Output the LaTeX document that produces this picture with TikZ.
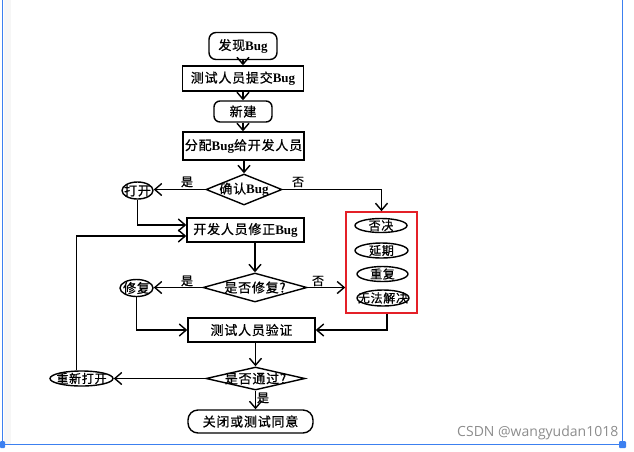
\documentclass[tikz,border=0pt]{standalone}
\usepackage{fontspec}
\setmainfont{Liberation Serif}
\newfontfamily\cjk{Noto Sans CJK SC}[FakeBold=0.8,LetterSpace=6]
\newfontfamily\wmfont{Open Sans}
\usetikzlibrary{shapes.geometric,arrows.meta,calc}
\definecolor{redbox}{RGB}{228,32,40}
\definecolor{selblue}{RGB}{60,128,240}
\newcommand{\bugtxt}{{\rmfamily\bfseries Bug}}
\begin{document}
\begin{tikzpicture}[x=1pt,y=-1pt,line width=1.4pt,
  arr/.style={-{Straight Barb[length=7pt,width=12pt]}},
  txt/.style={font=\cjk\fontsize{13}{13}\selectfont, inner sep=0pt},
  small/.style={font=\cjk\fontsize{12}{12}\selectfont, inner sep=0pt},
  box/.style={draw, rectangle, inner sep=0pt, txt},
  rbox/.style={draw, rectangle, rounded corners=7pt, inner sep=0pt, txt},
  dia/.style={draw, diamond, inner sep=0pt},
  ell/.style={draw, ellipse, inner sep=0pt},
  lab/.style={font=\cjk\fontsize{12}{12}\selectfont, inner sep=0pt}]
\useasboundingbox (0,0) rectangle (634,451);
% selection frame
\fill[gray!7] (4,0) rectangle (11,444);
\draw[selblue, line width=1pt] (2,0) -- (2,444) -- (622,444) -- (622,0);
\fill[selblue, rounded corners=1pt] (0,441) rectangle (5,448);
\fill[selblue, rounded corners=1pt] (619,441) rectangle (626,448);
\node[anchor=east, text=black!45, font=\wmfont\fontsize{14}{14}\selectfont, inner sep=0pt] (wm) at (619,433) {CSDN @wangyudan1018};
% nodes
\node[rbox, minimum width=68pt, minimum height=27pt] (find) at (243,46) {发现\bugtxt};
\node[box, minimum width=121pt, minimum height=25pt] (submit) at (243,78.5) {测试人员提交\bugtxt};
\node[rbox, rounded corners=6pt, minimum width=58pt, minimum height=21pt] (new) at (243,111.5) {新建};
\node[box, minimum width=121pt, minimum height=28pt] (assign) at (243.5,146) {分配\bugtxt 给开发人员};
\node[dia, minimum width=76pt, minimum height=31pt, label={[txt]center:确认\bugtxt}] (confirm) at (244,189.5) {};
\node[ell, minimum width=31pt, minimum height=17pt, label={[txt]center:打开}] (open) at (137.5,190.5) {};
\node[box, minimum width=117pt, minimum height=24pt] (fix) at (245.5,230) {开发人员修正\bugtxt};
\node[dia, minimum width=104pt, minimum height=29pt, label={[txt]center:是否修复?}] (fixq) at (255,287.5) {};
\node[ell, minimum width=33pt, minimum height=17pt, label={[txt]center:修复}] (repair) at (136.5,288) {};
\node[draw=redbox, rectangle, line width=1.5pt, minimum width=71pt, minimum height=101pt, inner sep=0pt] (red) at (381.5,262.5) {};
\node[ell, minimum width=52pt, minimum height=14pt, label={[small]center:否决}] (rej) at (381,225.5) {};
\node[ell, minimum width=53pt, minimum height=15pt, label={[small]center:延期}] (delay) at (381.5,250.5) {};
\node[ell, minimum width=51pt, minimum height=15pt, label={[small]center:重复}] (dup) at (382.5,274) {};
\node[ell, minimum width=52pt, minimum height=16pt, label={[small]center:无法解决}] (nofix) at (383,298) {};
\node[box, minimum width=127pt, minimum height=24pt] (verify) at (251.5,330) {测试人员验证};
\node[dia, minimum width=99pt, minimum height=23pt, label={[txt]center:是否通过?}] (passq) at (255.5,378.5) {};
\node[ell, minimum width=63pt, minimum height=15pt, label={[small]center:重新打开}] (reopen) at (81.5,378.5) {};
\node[rbox, rounded corners=10pt, minimum width=125pt, minimum height=23pt] (close) at (250.5,421.5) {关闭或测试同意};
% labels
\node[lab] (l1) at (187,182) {是};
\node[lab] (l2) at (298,182) {否};
\node[lab] (l3) at (187,281) {是};
\node[lab] (l4) at (318,281) {否};
\node[lab] (l5) at (263,398) {是};
% connectors
\draw[arr] (find) -- (submit);
\draw[arr] (submit) -- (new);
\draw[arr] (new.south) -- (new.south |- assign.north);
\draw[arr] (confirm.north |- assign.south) -- (confirm.north);
\draw[arr] (confirm.west) -- (confirm.west -| open.east);
\draw[arr] (confirm.east) -| (red.north);
\draw[arr] (open.south) |- ([yshift=5pt]fix.west);
\draw[arr] (fixq.north |- fix.south) -- (fixq.north);
\draw[arr] (fixq.west) -- (fixq.west -| repair.east);
\draw[arr] (fixq.east) -- (fixq.east -| red.west);
\draw[arr] (repair.south) |- (verify.west);
\draw[arr] ([xshift=5.5pt]red.south) |- (verify.east);
\draw[arr] (passq.north |- verify.south) -- (passq.north);
\draw[arr] (passq.west) -- (passq.west -| reopen.east);
\draw[arr] ([xshift=-5pt]reopen.north) |- ([yshift=-6pt]fix.west);
\draw[arr] (passq.south) -- (passq.south |- close.north);
\end{tikzpicture}
\end{document}
